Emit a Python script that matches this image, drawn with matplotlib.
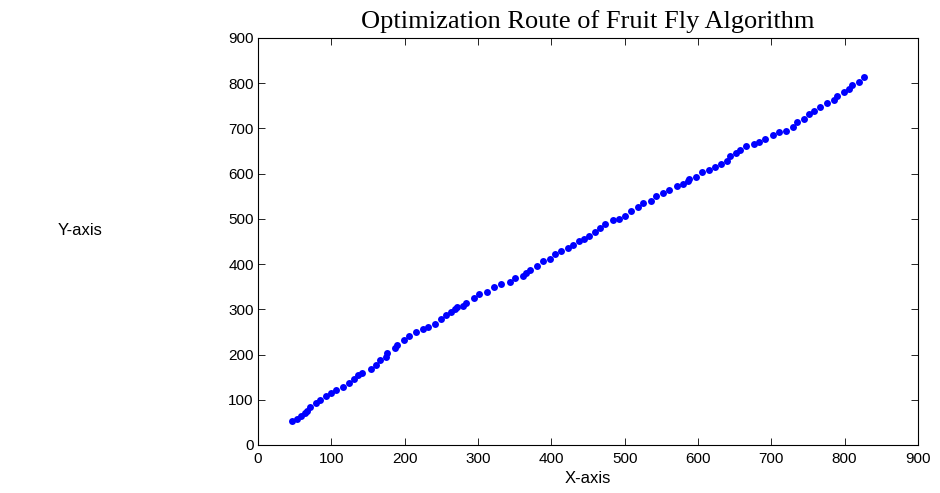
import matplotlib.pyplot as plt

# route of the fruit fly swarm
x = [47, 53, 58, 64, 67, 71, 79, 85, 93, 99, 106, 116, 124, 131, 137, 142,
     154, 161, 167, 174, 176, 187, 189, 199, 206, 216, 225, 232, 241, 249,
     257, 263, 269, 272, 279, 284, 295, 301, 312, 322, 332, 343, 351, 361,
     366, 371, 380, 389, 398, 405, 413, 423, 430, 438, 445, 451, 459, 466,
     473, 484, 492, 501, 509, 518, 525, 536, 543, 552, 561, 571, 579, 587,
     588, 598, 605, 615, 623, 631, 640, 644, 652, 657, 665, 676, 683, 691,
     702, 711, 720, 729, 735, 744, 752, 758, 766, 776, 785, 789, 799, 806,
     810, 820, 827]
y = [54, 58, 64, 71, 76, 85, 93, 100, 108, 116, 121, 129, 137, 145, 154, 160,
     169, 176, 187, 195, 204, 214, 222, 232, 240, 250, 257, 260, 268, 279,
     287, 294, 300, 304, 307, 315, 324, 333, 338, 349, 356, 361, 369, 374,
     380, 387, 396, 406, 411, 422, 428, 435, 442, 450, 456, 462, 470, 479,
     488, 498, 500, 506, 517, 527, 535, 540, 551, 557, 564, 573, 577, 584,
     588, 593, 603, 608, 614, 621, 627, 638, 645, 652, 661, 666, 671, 676,
     685, 692, 695, 703, 714, 721, 732, 739, 748, 756, 763, 772, 780, 788,
     795, 803, 813]

fig = plt.figure(figsize=(9.4, 4.93), dpi=100)
ax = fig.add_axes([0.2745, 0.0974, 0.702, 0.8256])

ax.plot(x, y, 'o', color=(0, 0, 1), markersize=5, markeredgewidth=0)

ax.set_xlim([0, 900])
ax.set_ylim([0, 900])
ax.set_xticks(range(0, 901, 100))
ax.set_yticks(range(0, 901, 100))
ax.tick_params(direction='in', top=True, right=True, length=5, width=0.6,
               labelsize=11)
ax.tick_params(axis='x', pad=5)
ax.tick_params(axis='y', pad=3)
for lab in ax.get_xticklabels() + ax.get_yticklabels():
    lab.set_family('Liberation Sans')
for s in ax.spines.values():
    s.set_linewidth(0.8)

ax.set_title('Optimization Route of Fruit Fly Algorithm', family='Liberation Serif',
             fontsize=19, pad=7)
ax.set_xlabel('X-axis', family='Liberation Sans', fontsize=12, labelpad=4)
ax.set_ylabel('Y-axis', family='Liberation Sans', fontsize=12, rotation=0,
              ha='center', va='center')
ax.yaxis.set_label_coords(-0.27, 0.528)

fig.savefig('out.png', dpi=100)
